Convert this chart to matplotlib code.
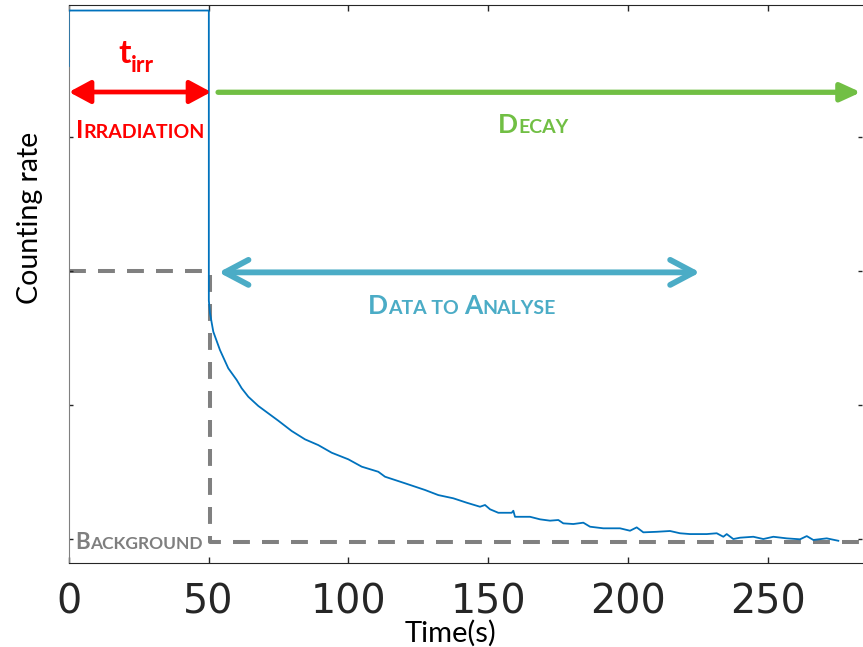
import matplotlib
matplotlib.use("Agg")
import matplotlib.pyplot as plt
from matplotlib.offsetbox import TextArea, HPacker, AnnotationBbox

# measured counting rate (arbitrary units)
t_data = [0.0, 0.0, 50.1, 50.1, 50.52, 51.70, 54.09, 57.06, 60.06, 61.85,
          64.21, 67.79, 71.36, 74.94, 79.73, 84.48, 89.24, 94.03, 99.96, 104.76,
          110.69, 113.09, 120.24, 127.39, 132.14, 137.50, 142.30, 147.05, 148.84, 150.63,
          153.59, 158.38, 158.96, 159.56, 164.93, 168.50, 172.08, 175.05, 176.83, 180.41,
          183.98, 186.38, 191.13, 197.10, 200.68, 203.07, 205.44, 210.22, 214.98, 218.55,
          222.13, 228.10, 231.68, 234.04, 235.25, 237.61, 240.01, 244.76, 248.34, 251.92,
          256.70, 261.46, 263.86, 266.22, 271.01, 275.15]
rate = [3.53, 3.944, 3.944, 1.78, 1.684, 1.547, 1.410, 1.274, 1.187, 1.125,
        1.062, 0.993, 0.938, 0.883, 0.806, 0.744, 0.701, 0.644, 0.595, 0.540,
        0.502, 0.465, 0.416, 0.366, 0.328, 0.304, 0.271, 0.241, 0.254, 0.222,
        0.196, 0.196, 0.211, 0.166, 0.166, 0.147, 0.137, 0.142, 0.117, 0.112,
        0.122, 0.092, 0.080, 0.080, 0.062, 0.087, 0.050, 0.054, 0.060, 0.043,
        0.037, 0.037, 0.043, 0.017, 0.037, 0.0, 0.010, 0.017, 0.0, 0.017,
        0.005, -0.002, 0.022, -0.007, 0.005, -0.013]

# background / end of irradiation guide
bg_t = [0.0, 50.5, 50.5, 283.6]
bg_rate = [2.0, 2.0, -0.02, -0.02]

x_ticks = [0, 50, 100, 150, 200, 250]
y_ticks = [0, 1, 2, 3]

RED = "#FF0000"
GREEN = "#71BF44"
TEAL = "#4BACC6"
GRAY = "#7F7F7F"
FONT = "Lato"


def smallcaps(ax, x, y, parts, big, small, color):
    # parts: list of (text, is_big)
    boxes = [TextArea(s, textprops=dict(size=big if b else small, color=color,
                                        weight="bold", family=FONT))
             for s, b in parts]
    pack = HPacker(children=boxes, align="baseline", pad=0, sep=0)
    ab = AnnotationBbox(pack, (x, y), xycoords="data", frameon=False,
                        box_alignment=(0.5, 0.5), pad=0)
    ax.add_artist(ab)


fig = plt.figure(figsize=(8.63, 6.47), dpi=100)
ax = fig.add_axes([0.0796, 0.1298, 0.9192, 0.862])

ax.plot(bg_t, bg_rate, color="#808080", lw=2.9, dashes=(4.2, 3), zorder=1)
ax.plot(t_data, rate, color="#0072BD", lw=1.3, zorder=3)

ax.set_xlim(0, 283.6)
ax.set_ylim(-0.179, 3.983)
ax.set_xticks(x_ticks)
ax.set_yticks(y_ticks)
ax.set_yticklabels([])
ax.tick_params(axis="x", direction="in", length=4.3, width=1, top=True,
               labelsize=28.5, pad=14, colors="#262626")
ax.tick_params(axis="y", direction="in", length=3, width=1, right=True,
               colors="#262626")
ax.spines["right"].set_visible(False)
ax.spines["left"].set_color("#808080")
for s in ["top", "bottom"]:
    ax.spines[s].set_color("#262626")

# arrows
ax.annotate("", xy=(50.9, 3.336), xytext=(0.1, 3.336),
            arrowprops=dict(arrowstyle="<|-|>,head_length=13,head_width=7",
                            mutation_scale=1, lw=3.4, color=RED,
                            shrinkA=0, shrinkB=0))
ax.annotate("", xy=(283.2, 3.334), xytext=(53.4, 3.334),
            arrowprops=dict(arrowstyle="-|>,head_length=12,head_width=5.5",
                            mutation_scale=1, lw=3.8, color=GREEN,
                            shrinkA=0, shrinkB=0), annotation_clip=False)
ax.annotate("", xy=(225.7, 1.99), xytext=(53.6, 1.99),
            arrowprops=dict(arrowstyle="<->,head_length=17,head_width=9",
                            mutation_scale=1, lw=4.2, color=TEAL,
                            capstyle="round", joinstyle="round",
                            shrinkA=0, shrinkB=0))

# labels
ax.text(22.1, 3.552, "t", ha="right", va="baseline", color=RED,
        fontsize=24, weight="bold", family=FONT)
ax.text(22.3, 3.485, "irr", ha="left", va="baseline", color=RED,
        fontsize=16.5, weight="bold", family=FONT)
smallcaps(ax, 25.5, 3.05, [("I", True), ("RRADIATION", False)], 18, 14, RED)
smallcaps(ax, 166, 3.09, [("D", True), ("ECAY", False)], 19, 14, GREEN)
smallcaps(ax, 140.6, 1.74, [("D", True), ("ATA TO ", False), ("A", True),
                            ("NALYSE", False)], 19, 14, TEAL)
smallcaps(ax, 25.1, -0.025, [("B", True), ("ACKGROUND", False)], 16, 12.5, GRAY)

fig.text(30 / 863, 1 - 218 / 647, "Counting rate", rotation=90,
         ha="center", va="center", fontsize=20.5, family=FONT)
fig.text(450 / 863, 1 - 633 / 647, "Time(s)", ha="center", va="center",
         fontsize=21, family=FONT)

fig.savefig("out.png", dpi=100)
